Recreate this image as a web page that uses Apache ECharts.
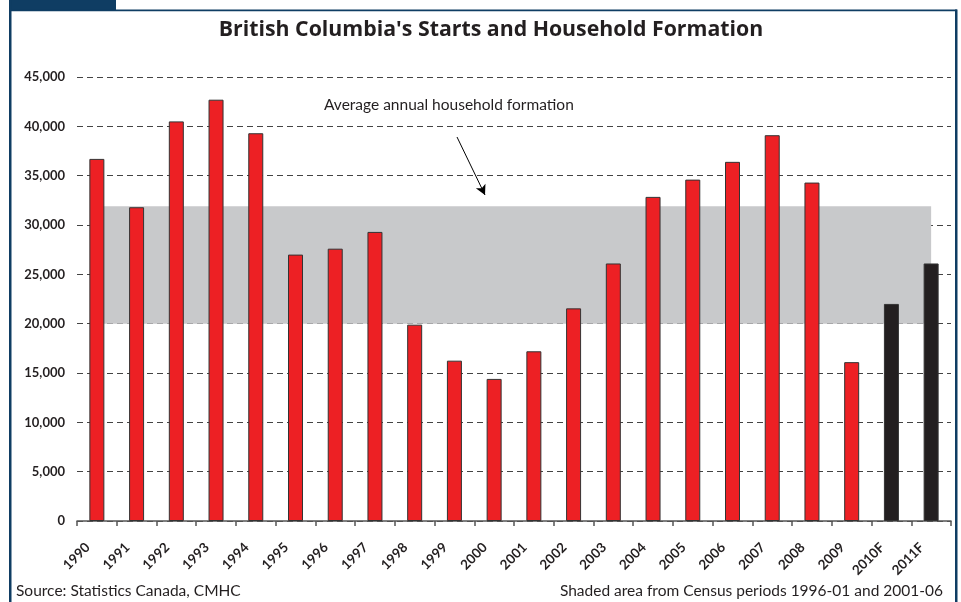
<!DOCTYPE html>
<html><head><meta charset="utf-8">
<script src="https://cdn.jsdelivr.net/npm/echarts@6/dist/echarts.min.js"></script>
<style>html,body{margin:0;padding:0;background:#fff}#c{width:961px;height:602px}</style>
</head><body><div id="c"></div>
<script>
const categories = ['1990','1991','1992','1993','1994','1995','1996','1997','1998','1999','2000','2001','2002','2003','2004','2005','2006','2007','2008','2009','2010F','2011F'];
const starts = [36700,31800,40500,42700,39300,27000,27600,29300,19900,16250,14400,17200,21550,26100,32850,34600,36400,39100,34300,16100,22000,26100];
const bandLow = 20000;
const bandHigh = 31900;
const yTicks = {min:0, max:45000, interval:5000};
const titleText = "British Columbia's Starts and Household Formation";
const noteText = 'Average annual household formation';
const sourceText = 'Source: Statistics Canada, CMHC';
const shadedText = 'Shaded area from Census periods 1996-01 and 2001-06';

const FONT = 'Lato, "Open Sans", sans-serif';
const INK = '#231f20';
const chart = echarts.init(document.getElementById('c'), null, {renderer:'canvas'});
chart.setOption({
  animation:false,
  backgroundColor:'#fff',
  title:{text:titleText, left:486, top:14, textAlign:'center',
    textStyle:{fontFamily:'"Open Sans", sans-serif', fontWeight:'bold', fontSize:21.3, color:INK}},
  grid:{left:77, right:10, top:77, bottom:81, containLabel:false},
  xAxis:{type:'category', data:categories, boundaryGap:true,
    axisLine:{lineStyle:{color:'#555', width:1.5}},
    axisTick:{show:true, length:5, lineStyle:{color:'#555', width:1.5}},
    axisLabel:{rotate:45, margin:15, interval:0, padding:[0,13,0,0], fontFamily:FONT, fontWeight:'bold', fontSize:13.5, color:INK},
    splitLine:{show:false}},
  yAxis:{type:'value', min:yTicks.min, max:yTicks.max, interval:yTicks.interval,
    axisLine:{show:false}, axisTick:{show:false},
    axisLabel:{margin:12, fontFamily:FONT, fontWeight:'bold', fontSize:13, color:INK,
      formatter:v=>v.toLocaleString('en-US')},
    splitLine:{show:true, lineStyle:{color:'#444', type:[6,4], width:1}}},
  series:[
    {type:'line', data:[], z:1, silent:true,
     markArea:{silent:true, itemStyle:{color:'#c8c9cb', opacity:1},
       data:[[{xAxis:categories[0], yAxis:bandLow},{xAxis:categories[categories.length-1], yAxis:bandHigh}]]},
     markLine:{silent:true, symbol:['none','arrow'], symbolSize:[8,10], label:{show:false},
       lineStyle:{color:'#000', width:1, type:'solid'},
       data:[[{x:457,y:137},{x:485,y:195}]]}
    },
    {type:'bar', data:starts, z:3, barWidth:15,
     itemStyle:{borderColor:'#333', borderWidth:1,
       color:p=>/F$/.test(categories[p.dataIndex]) ? '#231f20' : '#ed2024'}}
  ],
  graphic:[
    {type:'rect', left:9, top:0, shape:{width:107, height:11}, style:{fill:'#0f3d63'}, silent:true},
    {type:'rect', left:9, top:9.5, shape:{width:948, height:1.8}, style:{fill:'#0f3d63'}, silent:true},
    {type:'rect', left:9, top:0, shape:{width:2.5, height:602}, style:{fill:'#0f3d63'}, silent:true},
    {type:'rect', left:955, top:9.5, shape:{width:2.5, height:593}, style:{fill:'#0f3d63'}, silent:true},
    {type:'text', left:324, top:97, style:{text:noteText, font:'15.5px '+FONT, fill:INK}, silent:true},
    {type:'text', left:16, top:583, style:{text:sourceText, font:'15.5px '+FONT, fill:INK}, silent:true},
    {type:'text', right:18, top:583, style:{text:shadedText, font:'15.5px '+FONT, fill:INK, textAlign:'right'}, silent:true}
  ]
});
</script></body></html>
